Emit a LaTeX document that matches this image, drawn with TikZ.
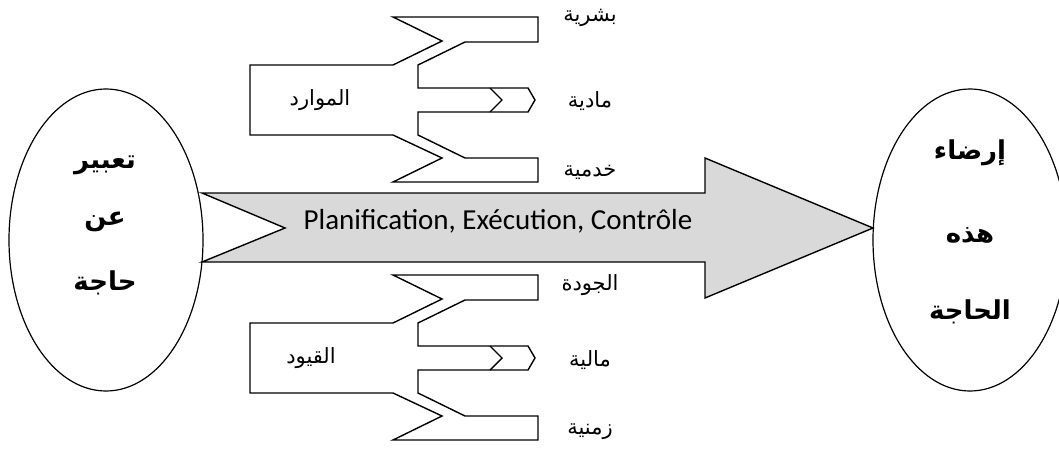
\documentclass[tikz,border=0pt]{standalone}
\usepackage{fontspec}
\setmainfont{Carlito}
\newfontfamily\arabicfont[Script=Arabic]{DejaVu Sans}
\TeXXeTstate=1
\usetikzlibrary{shapes.geometric}
\newcommand{\Arab}[1]{{\arabicfont\beginR #1\endR}}
% fork made of three prongs, drawn at a shift
\newcommand{\Fork}[1]{%
  \begin{scope}[shift={(0,#1)}]
    \draw[forkline] (250,65) -- (393,65) -- (442,41) -- (393,17) -- (538,17) -- (538,42)
      -- (465,42) -- (418,65) -- (418,88) -- (528,88) -- (535,100) -- (528,112) -- (418,112)
      -- (418,135) -- (465,158) -- (538,158) -- (538,182) -- (393,182) -- (442,158)
      -- (393,135) -- (250,135) -- cycle;
    \draw[forkline] (490,88) -- (502,100) -- (490,112);
  \end{scope}%
}
\begin{document}
\begin{tikzpicture}[
    x=1pt,
    y=-1pt,
    forkline/.style={line width=1.4pt, line join=miter},
    needoval/.style={draw, ellipse, line width=1.2pt, minimum width=194pt, minimum height=302pt, inner sep=0pt},
    flowarrow/.style={draw, line width=1.4pt, fill=black!15, line join=miter},
    ovaltext/.style={font=\arabicfont\bfseries\fontsize{26}{30}\selectfont},
    forktext/.style={font=\arabicfont\fontsize{21}{24}\selectfont},
    itemtext/.style={font=\arabicfont\fontsize{21}{24}\selectfont},
    steptext/.style={font=\fontsize{29}{34}\selectfont}
  ]
  \useasboundingbox (0,0) rectangle (1059,455);

  \node[needoval] (need) at (106,240) {};
  \node[needoval] (goal) at (970,240) {};

  % texts inside the two ovals, line by line
  \foreach \n/\x/\y/\t in {needa/105/165/تعبير, needb/105/222/عن, needc/105/283/حاجة,
                           goala/970/153/إرضاء, goalb/970/235/هذه, goalc/970/312/الحاجة} {
    \node[ovaltext] (\n) at (\x,\y) {\Arab{\t}};
  }

  \draw[flowarrow] (202,193) -- (705,193) -- (705,158) -- (873,228) -- (705,298)
    -- (705,262) -- (202,262) -- (285,228) -- cycle;
  \node[steptext] (steps) at (498,221) {Planification, Exécution, Contrôle};

  \Fork{0}
  \Fork{258}

  \node[forktext] (means) at (320,100) {\Arab{الموارد}};
  \node[forktext] (limits) at (311,358) {\Arab{القيود}};

  \foreach \n/\y/\t in {human/18/بشرية, material/101/مادية, service/172/خدمية,
                        quality/285/الجودة, money/360/مالية, timing/432/زمنية} {
    \node[itemtext] (\n) at (590,\y) {\Arab{\t}};
  }
\end{tikzpicture}
\end{document}
